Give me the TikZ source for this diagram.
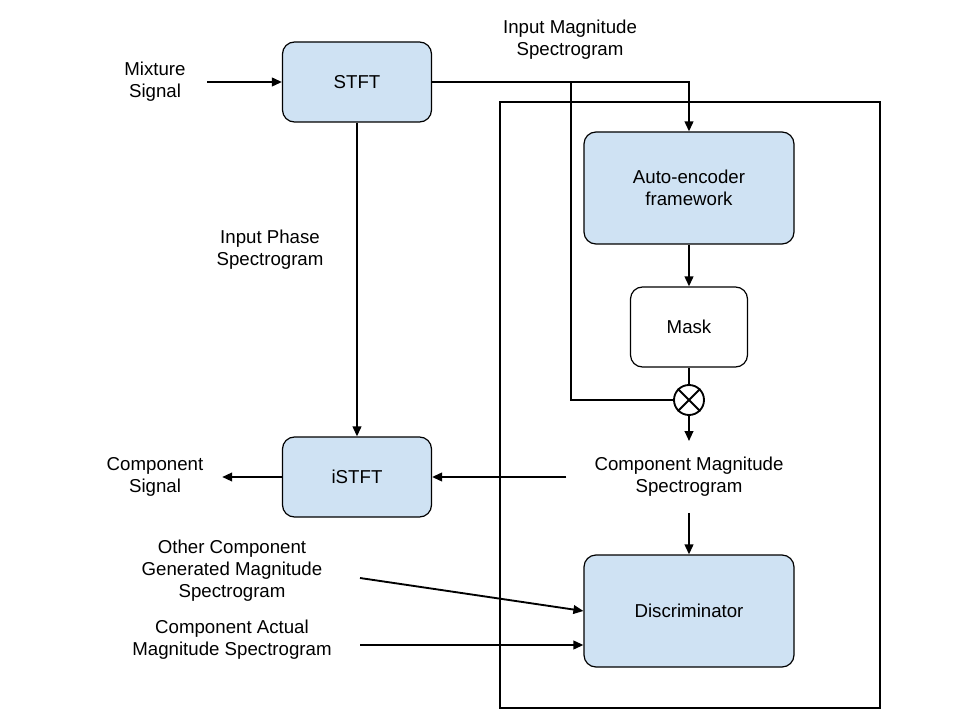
\documentclass[tikz,border=0pt]{standalone}
\usepackage{fontspec}
\setmainfont{Liberation Sans}
\usetikzlibrary{arrows.meta}

\definecolor{boxblue}{HTML}{CFE2F3}

\begin{document}
\begin{tikzpicture}[x=0.75pt,y=-0.75pt,
  font=\fontsize{14}{16.5}\selectfont,
  blk/.style={draw, line width=0.9pt, rounded corners=9pt, fill=boxblue, align=center},
  wblk/.style={blk, fill=white},
  lbl/.style={align=center, inner sep=0pt},
  conn/.style={line width=1.4pt},
  arr/.style={conn, -{Triangle[length=7.5pt,width=6.5pt]}}]
\useasboundingbox (0,0) rectangle (960,720);
% frame round the GAN part
\draw[line width=1.4pt] (500,102) rectangle (880,708);
% blocks
\node[blk, minimum width=111.75pt, minimum height=60pt] (stft) at (357,82) {STFT};
\node[blk, minimum width=111.75pt, minimum height=60pt] (istft) at (357,477) {iSTFT};
\node[blk, minimum width=157.5pt, minimum height=84pt] (ae) at (689,188) {Auto-encoder\\framework};
\node[wblk, minimum width=87.75pt, minimum height=60pt] (mask) at (689,327) {Mask};
\node[blk, minimum width=157.5pt, minimum height=84pt] (disc) at (689,611) {Discriminator};
\node[draw, circle, line width=1.4pt, minimum size=22.5pt, inner sep=0pt] (mul) at (689,400) {};
\draw[line width=1.4pt] (mul.north west) -- (mul.south east) (mul.north east) -- (mul.south west);
% labels
\node[lbl] (mix) at (155,82) {Mixture\\Signal};
\node[lbl] (csig) at (155,477) {Component\\Signal};
\node[lbl] (imag) at (570,40) {Input Magnitude\\Spectrogram};
\node[lbl] (iph) at (270,250) {Input Phase\\Spectrogram};
\node[lbl] (cms) at (689,477) {Component Magnitude\\Spectrogram};
\node[lbl] (other) at (232,571) {Other Component\\Generated Magnitude\\Spectrogram};
\node[lbl] (act) at (232,640) {Component Actual\\Magnitude Spectrogram};
\coordinate (br) at (571,82);
% connectors
\draw[arr] ([xshift=16pt]mix.east) -- (stft.west);
\draw[arr] (stft.east) -| (ae.north);
\draw[conn] (br) |- (mul.west);
\draw[arr] (ae.south) -- (mask.north);
\draw[conn] (mask.south) -- (mul.north);
\draw[arr] (mul.south) -- ([yshift=12pt]cms.north);
\draw[arr] ([xshift=-21pt]cms.west) -- (istft.east);
\draw[arr] ([yshift=-12pt]cms.south) -- (disc.north);
\draw[arr] (stft.south) -- (istft.north);
\draw[arr] (istft.west) -- ([xshift=14pt]csig.east);
\draw[arr] (360,578) -- (disc.west);
\draw[arr] (360,645) -- (disc.west |- 0,645);
\end{tikzpicture}
\end{document}
